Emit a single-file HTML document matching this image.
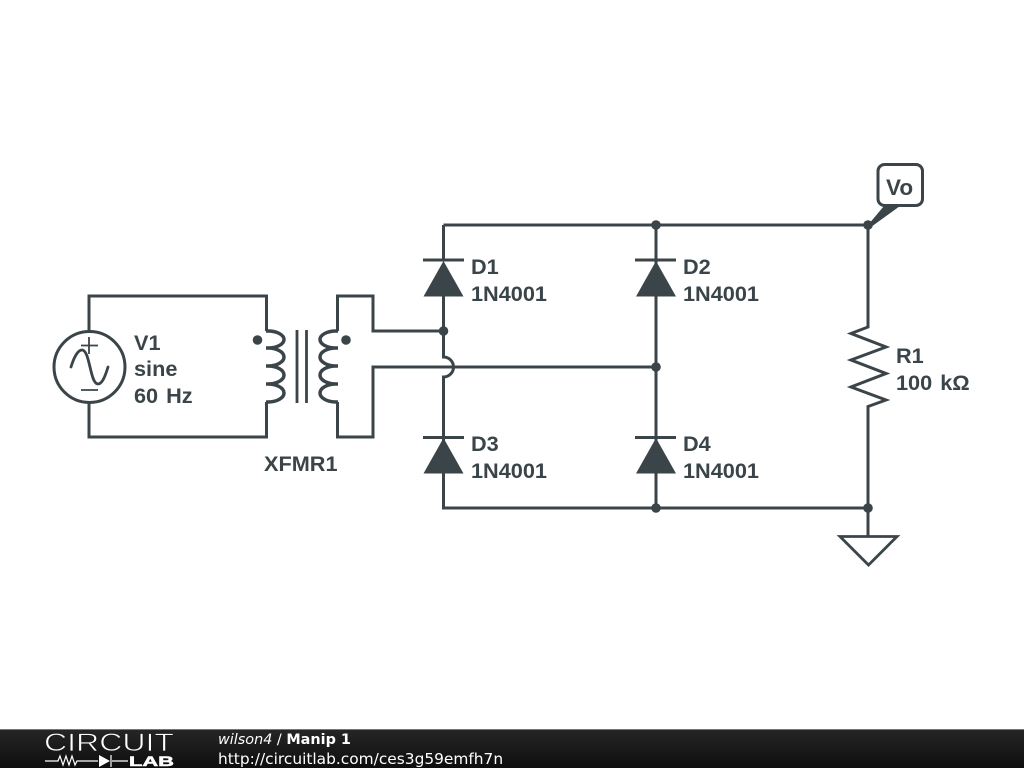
<!DOCTYPE html>
<html><head><meta charset="utf-8"><style>
html,body{margin:0;padding:0;background:#fff;width:1024px;height:768px;overflow:hidden}
svg{display:block}
</style></head><body>
<svg width="1024" height="768" viewBox="0 0 1024 768" xmlns="http://www.w3.org/2000/svg">
<defs><linearGradient id="g" x1="0" y1="0" x2="0" y2="1"><stop offset="0" stop-color="#262626"/><stop offset="1" stop-color="#0e0e0e"/></linearGradient></defs>
<rect width="1024" height="768" fill="#fff"/>
<g fill="none" stroke="#3b4549" stroke-width="3" stroke-linejoin="miter" stroke-linecap="butt">
<!-- source loop -->
<path d="M89 331V296H266.500V331M89 402V437H266.500V402"/>
<circle cx="89.500" cy="367" r="35.500"/>
<path d="M89 337V354M81 345.500H98M81 390H98" stroke-width="1.800"/>
<path d="M71 367C74 357 78 350 82 350C90 350 90 384 98 384C102 384 105 377 108 367" stroke-width="2.800" stroke-linecap="round"/>
<!-- coils -->
<path d="M266 331H268A16 8.500 0 0 1 268 348H266M268 348A16 9 0 0 1 268 366H266M268 366A16 9 0 0 1 268 384H266M268 384A16 9 0 0 1 268 402H266" stroke-width="3.500"/>
<path d="M338 331H336A16 8.500 0 0 0 336 348H338M336 348A16 9 0 0 0 336 366H338M336 366A16 9 0 0 0 336 384H338M336 384A16 9 0 0 0 336 402H338" stroke-width="3.500"/>
<path d="M297 330V403M306.500 330V403" stroke-width="2.800"/>
<path d="M337.500 331V296H373V331H443.500M337.500 402V437H373V367H656"/>
<!-- bridge -->
<path d="M443.500 296V357A10 10 0 0 1 443.500 377V508H868M443.500 225V260M443.500 225H868M656 225V508"/>
<path d="M423 260H464M635 260H676M423 437.500H464M635 437.500H676"/>
<!-- resistor -->
<path d="M868 225V327L851 333.500L886 347L851 360L886 373.500L851 387L886 400L868 406.500V537"/>
<path d="M840 536.500H897L868.500 565Z" stroke-width="2.800"/>
<rect x="878" y="164.500" width="44.500" height="41" rx="6.500" stroke-width="3"/>
</g>
<g fill="#3b4549">
<path d="M443.500 261L463.500 296.500H423.500Z"/><path d="M656 261L676 296.500H636Z"/>
<path d="M443.500 438L463.500 473.500H423.500Z"/><path d="M656 438L676 473.500H636Z"/>
<path d="M868 225L884 206H900L871 227Z"/>
<circle cx="257.500" cy="340" r="4.800"/><circle cx="346" cy="340" r="4.800"/>
<circle cx="443.500" cy="331" r="4.800"/><circle cx="656" cy="225" r="4.800"/><circle cx="656" cy="367" r="4.800"/>
<circle cx="656" cy="508" r="4.800"/><circle cx="868" cy="225" r="4.800"/><circle cx="868" cy="508" r="4.800"/>
</g>
<g font-family="'Liberation Sans',sans-serif" font-weight="bold" font-size="21.700" fill="#3b4549" word-spacing="2">
<text x="134" y="350">V1</text><text x="134" y="376">sine</text><text x="134" y="403">60 Hz</text>
<text x="264" y="471">XFMR1</text>
<text x="471" y="274">D1</text><text x="471" y="301">1N4001</text>
<text x="683" y="274">D2</text><text x="683" y="301">1N4001</text>
<text x="471" y="451">D3</text><text x="471" y="478">1N4001</text>
<text x="683" y="451">D4</text><text x="683" y="478">1N4001</text>
<text x="896" y="363">R1</text><text x="896" y="390">100 kΩ</text>
<text x="886" y="195" font-size="22.500">Vo</text>
</g>
<!-- footer -->
<rect x="0" y="729" width="1024" height="39" fill="url(#g)"/>
<rect x="0" y="729" width="1024" height="1" fill="#777"/>
<text x="44" y="751" font-family="'Liberation Sans',sans-serif" font-size="25" fill="#fff" stroke="#1c1c1c" stroke-width="0.700" textLength="130" lengthAdjust="spacingAndGlyphs">CIRCUIT</text>
<path d="M45 761H58L60 756L63 765L66 756L69 765L72 756L75 765L77 761H98M112 761H128M111 755V767" fill="none" stroke="#fff" stroke-width="1.200"/>
<path d="M99 755L110 761L99 767Z" fill="#fff"/>
<text x="129" y="766" font-family="'Liberation Sans',sans-serif" font-weight="bold" font-size="14" fill="#fff" stroke="#fff" stroke-width="0.500" textLength="45" lengthAdjust="spacingAndGlyphs">LAB</text>
<text x="218" y="744" font-family="'DejaVu Sans',sans-serif" font-size="14.400" fill="#fff"><tspan font-style="oblique">wilson4</tspan> / <tspan font-weight="bold">Manip 1</tspan></text>
<text x="218" y="764" font-family="'DejaVu Sans',sans-serif" font-size="15.400" fill="#fff">http://circuitlab.com/ces3g59emfh7n</text>
</svg>
</body></html>
